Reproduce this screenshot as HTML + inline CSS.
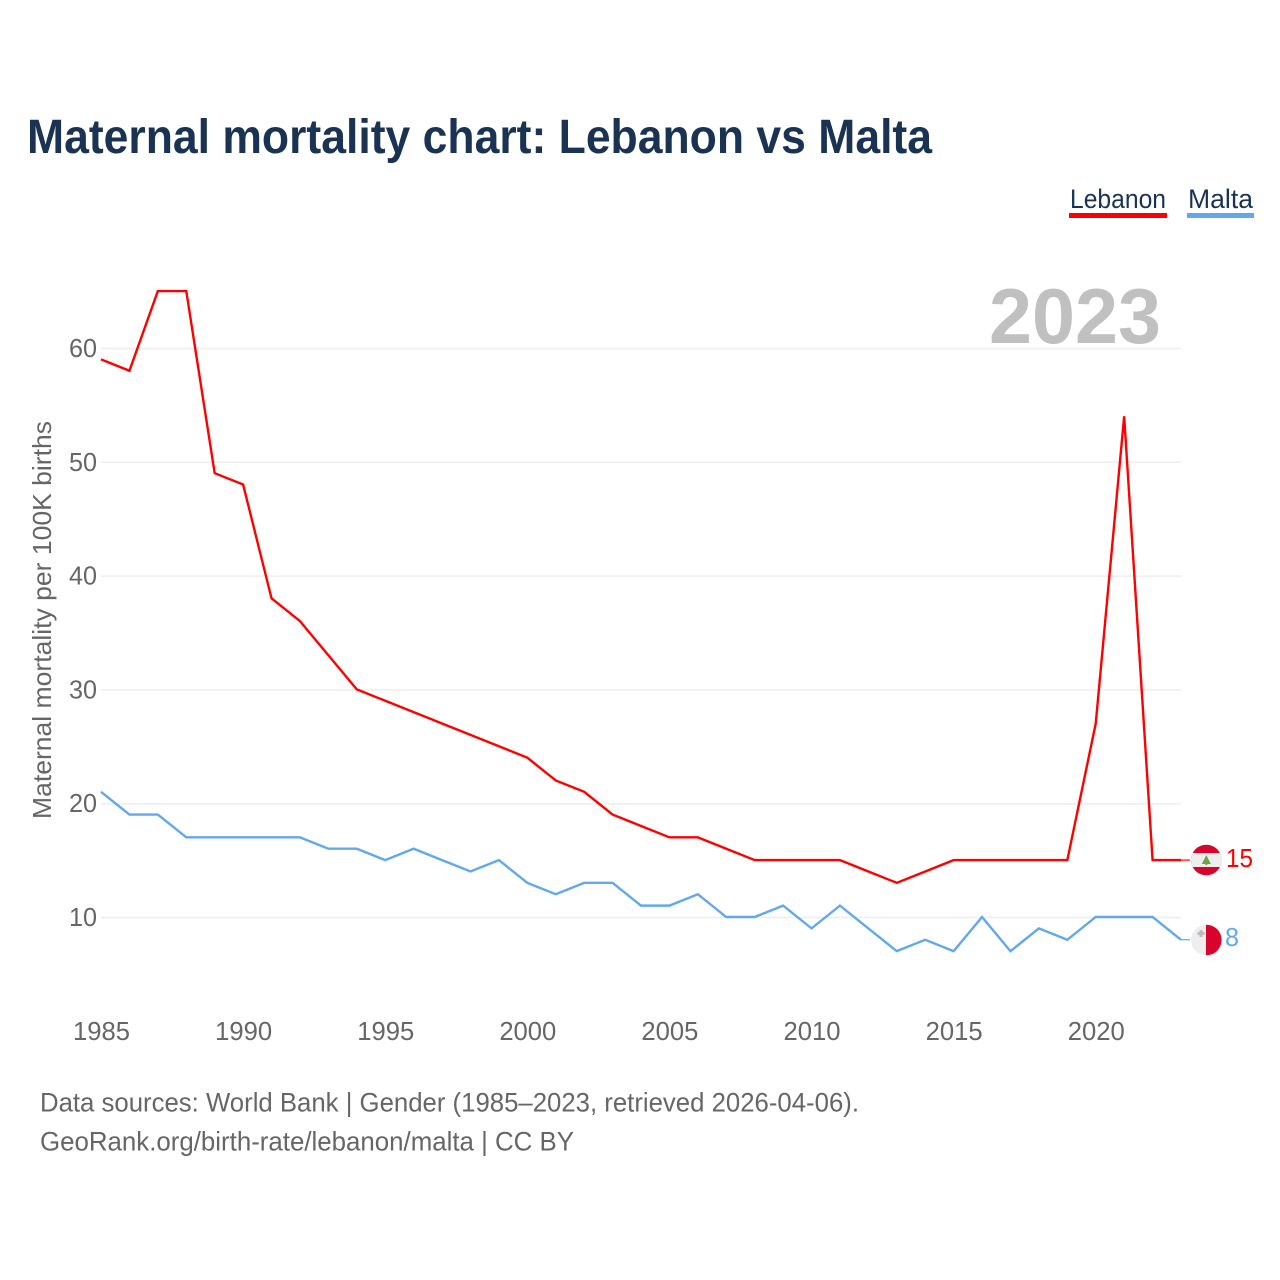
<!DOCTYPE html>
<html lang="en">
<head>
<meta charset="utf-8">
<title>Maternal mortality chart: Lebanon vs Malta</title>
<style>
html,body{margin:0;padding:0;background:#fff;width:1280px;height:1280px;overflow:hidden}
svg{display:block;font-family:"Liberation Sans",sans-serif}
</style>
</head>
<body>
<svg id="chart" xmlns="http://www.w3.org/2000/svg" width="1280" height="1280" viewBox="0 0 1280 1280">
<text x="27" y="153" font-size="48" font-weight="700" fill="#1a3353" textLength="905" lengthAdjust="spacingAndGlyphs">Maternal mortality chart: Lebanon vs Malta</text>
<g>
<g>
<text x="1070" y="208" font-size="27" fill="#1a3353" textLength="96" lengthAdjust="spacingAndGlyphs">Lebanon</text>
<rect x="1069" y="213" width="98" height="5" fill="#ff0000"/>
</g>
<g>
<text x="1188" y="208" font-size="27" fill="#1a3353" textLength="65" lengthAdjust="spacingAndGlyphs">Malta</text>
<rect x="1187" y="213" width="67" height="5" fill="#62a8ec"/>
</g>
</g>
<g id="grid"></g>
<text x="989" y="343" font-size="78" font-weight="700" fill="#c0c0c0" textLength="172" lengthAdjust="spacingAndGlyphs">2023</text>
<g id="yticks"></g>
<g id="xticks"></g>
<text transform="translate(51,819) rotate(-90)" x="0" y="0" font-size="26" fill="#666666" textLength="398" lengthAdjust="spacingAndGlyphs">Maternal mortality per 100K births</text>
<g id="series"></g>
<defs>
<clipPath id="clip-lb"><circle cx="1206.300" cy="860" r="15.300"/></clipPath>
<clipPath id="clip-mt"><circle cx="1206.300" cy="940" r="15.300"/></clipPath>
</defs>
<g clip-path="url(#clip-lb)">
<rect x="1190" y="844" width="32" height="32" fill="#d8042b"/>
<rect x="1190" y="853" width="32" height="14" fill="#eeeeee"/>
<polygon points="1206.300,855 1210.800,864 1201.800,864" fill="#6da544"/>
<rect x="1205.300" y="863" width="2" height="2" fill="#6da544"/>
</g>
<g clip-path="url(#clip-mt)">
<rect x="1190" y="924" width="16" height="32" fill="#eeeeee"/>
<rect x="1206" y="924" width="16" height="32" fill="#d8042b"/>
<path d="M1199.500 930h3v2h2v3h-2v2h-3v-2h-2v-3h2z" fill="#bcbcbc"/>
</g>
<text x="1226" y="867" font-size="26" fill="#ff0000" textLength="27" lengthAdjust="spacingAndGlyphs">15</text>
<text x="1225" y="946" font-size="26" fill="#62a8ec" textLength="14" lengthAdjust="spacingAndGlyphs">8</text>
<text x="40" y="1111.500" font-size="27" fill="#666666" textLength="819" lengthAdjust="spacingAndGlyphs">Data sources: World Bank | Gender (1985–2023, retrieved 2026-04-06).</text>
<text x="40" y="1150.500" font-size="27" fill="#666666" textLength="534" lengthAdjust="spacingAndGlyphs">GeoRank.org/birth-rate/lebanon/malta | CC BY</text>
</svg>
<script>
const startYear = 1985;
const lebanonValues = [59,58,65,65,49,48,38,36,33,30,29,28,27,26,25,24,22,21,19,18,17,17,16,15,15,15,15,14,13,14,15,15,15,15,15,27,54,15,15];
const maltaValues = [21,19,19,17,17,17,17,17,16,16,15,16,15,14,15,13,12,13,13,11,11,12,10,10,11,9,11,9,7,8,7,10,7,9,8,10,10,10,8];
const yTickValues = [10,20,30,40,50,60];
const xTickYears = [1985,1990,1995,2000,2005,2010,2015,2020];

const NS = 'http://www.w3.org/2000/svg';
const xScale = function (year) { return 101 + (year - 1985) * (1080 / 38); };
const yScale = function (value) { return 917.5 - (value - 10) * 11.38; };
const lineY = function (value) { return yScale(value) - 0.5; };

const gridGroup = document.getElementById('grid');
const yTickGroup = document.getElementById('yticks');
const xTickGroup = document.getElementById('xticks');
const seriesGroup = document.getElementById('series');

yTickValues.forEach(function (value) {
  const line = document.createElementNS(NS, 'line');
  
  
  line.setAttribute('x1', 101);
  line.setAttribute('x2', 1181);
  line.setAttribute('y1', yScale(value));
  line.setAttribute('y2', yScale(value));
  line.setAttribute('stroke', '#eeeeee');
  line.setAttribute('stroke-width', '1.5');
  gridGroup.appendChild(line);

  const label = document.createElementNS(NS, 'text');
  
  
  label.setAttribute('x', 69);
  label.setAttribute('y', yScale(value) + 8.5);
  label.setAttribute('font-size', '26');
  label.setAttribute('fill', '#666666');
  label.setAttribute('textLength', '28');
  label.setAttribute('lengthAdjust', 'spacingAndGlyphs');
  label.textContent = String(value);
  yTickGroup.appendChild(label);
});

xTickYears.forEach(function (year) {
  const label = document.createElementNS(NS, 'text');
  
  
  label.setAttribute('x', xScale(year) - 28);
  label.setAttribute('y', 1040);
  label.setAttribute('font-size', '26');
  label.setAttribute('fill', '#666666');
  label.setAttribute('textLength', '57');
  label.setAttribute('lengthAdjust', 'spacingAndGlyphs');
  label.textContent = String(year);
  xTickGroup.appendChild(label);
});

function linePoints(values) {
  return values.map(function (value, i) {
    return xScale(startYear + i).toFixed(2) + ',' + lineY(value).toFixed(2);
  }).join(' ');
}

const lebanonLine = document.createElementNS(NS, 'polyline');


lebanonLine.setAttribute('points', linePoints(lebanonValues));
lebanonLine.setAttribute('fill', 'none');
lebanonLine.setAttribute('stroke', '#ff0000');
lebanonLine.setAttribute('stroke-width', '2.4');
seriesGroup.appendChild(lebanonLine);

const maltaLine = document.createElementNS(NS, 'polyline');


maltaLine.setAttribute('points', linePoints(maltaValues));
maltaLine.setAttribute('fill', 'none');
maltaLine.setAttribute('stroke', '#62a8ec');
maltaLine.setAttribute('stroke-width', '2.4');
seriesGroup.appendChild(maltaLine);

const lebanonLeader = document.createElementNS(NS, 'line');


lebanonLeader.setAttribute('x1', 1181);
lebanonLeader.setAttribute('x2', 1190);
lebanonLeader.setAttribute('y1', lineY(lebanonValues[lebanonValues.length - 1]));
lebanonLeader.setAttribute('y2', lineY(lebanonValues[lebanonValues.length - 1]));
lebanonLeader.setAttribute('stroke', '#ff0000');
lebanonLeader.setAttribute('stroke-width', '1.2');
seriesGroup.appendChild(lebanonLeader);

const maltaLeader = document.createElementNS(NS, 'line');


maltaLeader.setAttribute('x1', 1181);
maltaLeader.setAttribute('x2', 1190);
maltaLeader.setAttribute('y1', lineY(maltaValues[maltaValues.length - 1]));
maltaLeader.setAttribute('y2', lineY(maltaValues[maltaValues.length - 1]));
maltaLeader.setAttribute('stroke', '#62a8ec');
maltaLeader.setAttribute('stroke-width', '1.2');
seriesGroup.appendChild(maltaLeader);
</script>
</body>
</html>
